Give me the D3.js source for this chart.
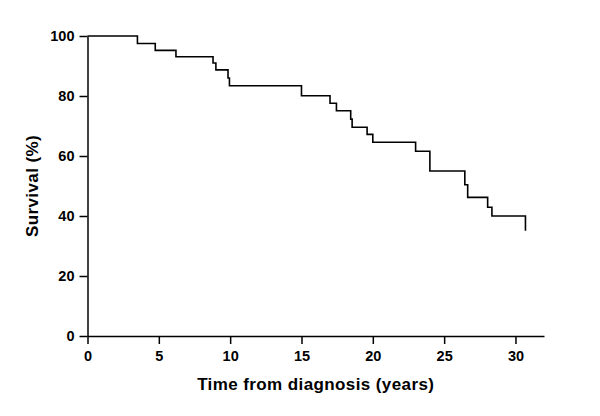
<!DOCTYPE html>
<html>
<head>
<meta charset="utf-8">
<script src="https://cdn.jsdelivr.net/npm/d3@7"></script>
<style>
  body { margin: 0; background: #fff; }
  svg text { font-family: "Liberation Sans", Arial, sans-serif; font-weight: bold; fill: #000; }
</style>
</head>
<body>
<svg id="chart" width="600" height="416"></svg>
<script>
// Kaplan-Meier survival steps
var times    = [0, 3.5, 4.75, 6.2, 8.8, 9.0, 9.85, 9.95, 15.0, 17.0, 17.45, 18.45, 18.55, 19.6, 20.0, 23.0, 24.0, 26.45, 26.65, 28.05, 28.35, 30.7];
var survival = [100, 97.5, 95.2, 93.1, 91.0, 88.7, 86.0, 83.4, 80.1, 77.6, 75.1, 72.3, 69.6, 67.2, 64.6, 61.6, 55.0, 50.4, 46.2, 42.9, 40.0, 35.1];
var xTicks = [0, 5, 10, 15, 20, 25, 30];
var yTicks = [0, 20, 40, 60, 80, 100];

var svg = d3.select('#chart');
var x = d3.scaleLinear().domain([0, 32]).range([87.5, 544]);
var y = d3.scaleLinear().domain([0, 100]).range([336, 36]);

var points = times.map(function(t, i) { return [t, survival[i]]; });

var xAxis = svg.append('g')
  .attr('transform', 'translate(0,' + y(0) + ')')
  .call(d3.axisBottom(x).tickValues(xTicks).tickSize(8).tickPadding(7).tickSizeOuter(0));
var yAxis = svg.append('g')
  .attr('transform', 'translate(' + x(0) + ',0)')
  .call(d3.axisLeft(y).tickValues(yTicks).tickSize(8).tickPadding(5).tickSizeOuter(0));

[xAxis, yAxis].forEach(function(ax) {
  ax.selectAll('path, line').attr('stroke', '#000').attr('stroke-width', 1.5);
  ax.selectAll('text').style('font-size', '14.5px');
});

svg.append('path')
  .datum(points)
  .attr('fill', 'none')
  .attr('stroke', '#000')
  .attr('stroke-width', 1.6)
  .attr('d', d3.line()
    .x(function(d) { return x(d[0]); })
    .y(function(d) { return y(d[1]); })
    .curve(d3.curveStepAfter));

svg.append('text')
  .attr('x', (x.range()[0] + x.range()[1]) / 2)
  .attr('y', 390)
  .attr('text-anchor', 'middle')
  .style('font-size', '17px')
  .style('letter-spacing', '0.4px')
  .text('Time from diagnosis (years)');

svg.append('text')
  .attr('transform', 'translate(37.5,' + y(50) + ') rotate(-90)')
  .attr('text-anchor', 'middle')
  .style('font-size', '17px')
  .style('letter-spacing', '0.4px')
  .text('Survival (%)');
</script>
</body>
</html>
